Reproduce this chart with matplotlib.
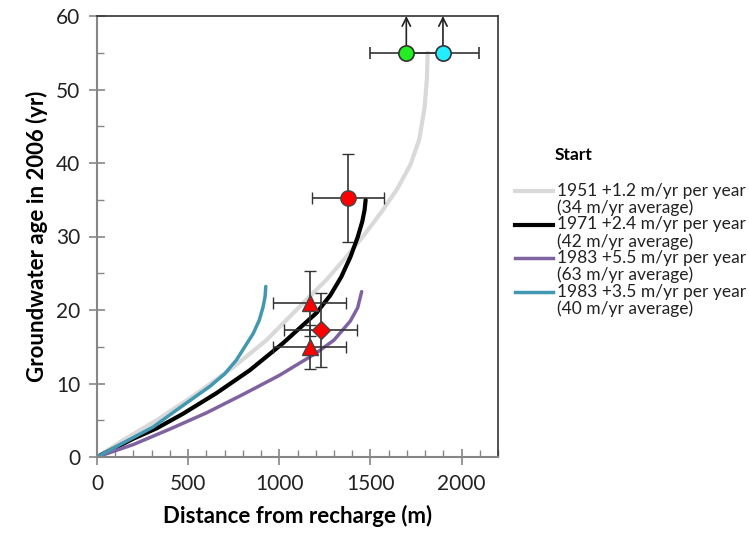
import matplotlib
matplotlib.use('Agg')
import matplotlib.pyplot as plt
from matplotlib.lines import Line2D
from matplotlib.ticker import MultipleLocator

plt.rcParams['font.family'] = ['Lato', 'DejaVu Sans']

# model curves: distance (m), age (yr)
x_1951 = [0, 150, 327, 528, 747, 930, 1130, 1258, 1360, 1459, 1560, 1650, 1720, 1768, 1797, 1810, 1814]
y_1951 = [0, 2.4, 5.0, 8.3, 12.2, 15.9, 20.9, 24.1, 27.0, 30.0, 33.3, 36.6, 39.8, 43.2, 47.5, 51.5, 55.0]

x_1971 = [0, 200, 327, 473, 656, 838, 1021, 1204, 1280, 1340, 1390, 1430, 1455, 1468, 1474]
y_1971 = [0, 2.5, 3.9, 5.9, 8.7, 11.8, 15.5, 19.6, 22.0, 24.5, 27.2, 29.9, 32.0, 33.6, 35.0]

x_1983a = [0, 200, 400, 600, 800, 1000, 1200, 1300, 1390, 1430, 1452]
y_1983a = [0, 1.7, 3.8, 6.0, 8.5, 11.1, 14.1, 15.9, 18.5, 20.3, 22.5]

x_1983b = [0, 150, 309, 437, 619, 700, 765, 857, 890, 911, 922, 926]
y_1983b = [0, 2.0, 4.1, 6.4, 9.6, 11.3, 13.2, 16.8, 18.6, 20.4, 21.8, 23.2]

labels = ['1951 +1.2 m/yr per year\n(34 m/yr average)',
          '1971 +2.4 m/yr per year\n(42 m/yr average)',
          '1983 +5.5 m/yr per year\n(63 m/yr average)',
          '1983 +3.5 m/yr per year\n(40 m/yr average)']
colors = ['#d9d9d9', '#000000', '#7f63a1', '#4298b0']
widths = [3, 3, 2.5, 2.5]

# observations: x, y, yerr (x error is 200 m for all)
circ_x = [1377]
circ_y = [35.2]
circ_yerr = [6.0]
tri_x = [1167, 1167]
tri_y = [20.9, 15.0]
tri_yerr = [4.4, 3.0]
dia_x = [1227]
dia_y = [17.3]
dia_yerr = [5.0]
min_x = [1697, 1898]   # minimum ages (arrows up)
min_y = [55, 55]
min_colors = ['#22ee22', '#22eeff']
xerr = 200

W, H = 749, 536
fig = plt.figure(figsize=(W / 100, H / 100), dpi=100)
ax = fig.add_axes([97 / W, 1 - 457 / H, 401 / W, 441 / H])

curves = [(x_1951, y_1951), (x_1971, y_1971), (x_1983a, y_1983a), (x_1983b, y_1983b)]
for (xs, ys), c, w in zip(curves, colors, widths):
    ax.plot(xs, ys, color=c, lw=w, solid_capstyle='round', solid_joinstyle='round')

ebkw = dict(ecolor='#333333', elinewidth=1.2, capsize=4, capthick=1.2, linestyle='none')
ax.errorbar(min_x, min_y, xerr=xerr, fmt='none', **ebkw)
for x, y, c in zip(min_x, min_y, min_colors):
    ax.annotate('', xy=(x, 60), xytext=(x, y),
                arrowprops=dict(arrowstyle='->', color='#222222', lw=1.2,
                                shrinkA=0, shrinkB=0, mutation_scale=15),
                annotation_clip=False)
    ax.plot(x, y, 'o', ms=11, mfc=c, mec='#333333', mew=1.2, zorder=5)

ax.errorbar(circ_x, circ_y, xerr=xerr, yerr=circ_yerr, fmt='o', ms=11,
            mfc='#ff0000', mec='#444444', mew=1, zorder=5, **ebkw)
ax.errorbar(tri_x, tri_y, xerr=xerr, yerr=tri_yerr, fmt='^', ms=12,
            mfc='#ff0000', mec='#444444', mew=1, zorder=5, **ebkw)
ax.errorbar(dia_x, dia_y, xerr=xerr, yerr=dia_yerr, fmt='D', ms=9,
            mfc='#ff0000', mec='#444444', mew=1, zorder=5, **ebkw)

ax.set_xlim(0, 2200)
ax.set_ylim(0, 60)
ax.xaxis.set_major_locator(MultipleLocator(500))
ax.xaxis.set_minor_locator(MultipleLocator(100))
ax.yaxis.set_major_locator(MultipleLocator(10))
ax.yaxis.set_minor_locator(MultipleLocator(5))
ax.tick_params(which='major', direction='inout', length=12, width=1.2,
               color='#868686', labelsize=15, labelcolor='#222222', pad=6)
ax.tick_params(which='minor', direction='in', length=5, width=1,
               color='#868686')

for s in ['left', 'bottom']:
    ax.spines[s].set_color('#868686')
    ax.spines[s].set_linewidth(1.5)
for s in ['top', 'right']:
    ax.spines[s].set_color('#333333')
    ax.spines[s].set_linewidth(1.2)

ax.set_xlabel('Distance from recharge (m)', fontsize=16, fontweight='bold', labelpad=8)
ax.set_ylabel('Groundwater age in 2006 (yr)', fontsize=16, fontweight='bold', labelpad=6)

# legend drawn by hand so the line sits beside the first text line
fig.text(555 / W, 1 - 155 / H, 'Start', fontsize=12.5, fontweight='bold', va='center')
for i, (lab, c, w) in enumerate(zip(labels, colors, widths)):
    yc = 191 + i * 33.5
    fig.add_artist(Line2D([515 / W, 553 / W], [1 - yc / H, 1 - yc / H],
                          color=c, lw=w, transform=fig.transFigure))
    for j, part in enumerate(lab.split('\n')):
        fig.text(557 / W, 1 - (yc + j * 17) / H, part, fontsize=12.5,
                 va='center', color='#222222')

fig.savefig('out.png', dpi=100)
